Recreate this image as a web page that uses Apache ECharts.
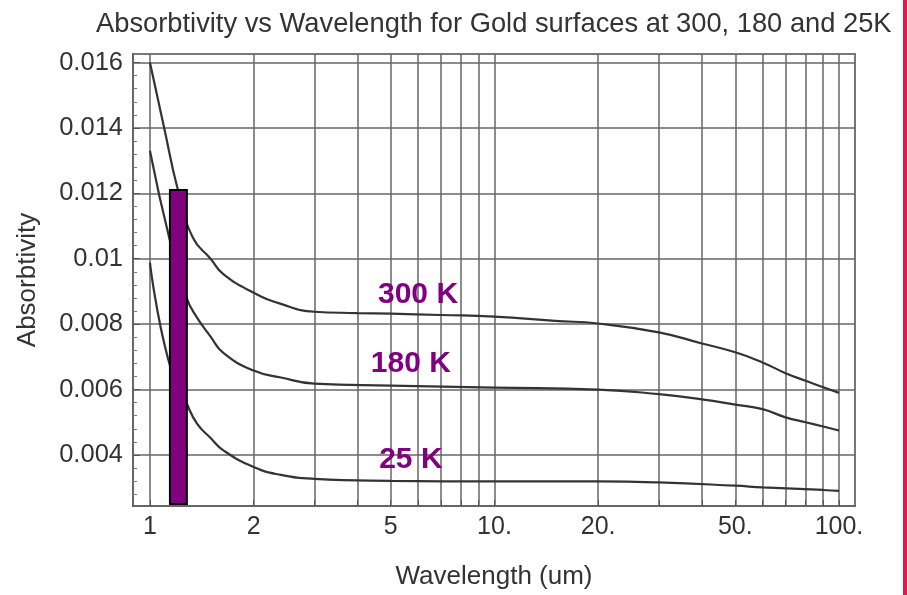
<!DOCTYPE html>
<html><head><meta charset="utf-8">
<script src="https://cdn.jsdelivr.net/npm/echarts@6/dist/echarts.min.js"></script>
<style>html,body{margin:0;padding:0;background:#fff}#c{width:907px;height:595px}</style>
</head><body><div id="c"></div>
<script>
const titleText = 'Absorbtivity vs Wavelength for Gold surfaces at 300, 180 and 25K';
const xName = 'Wavelength (um)';
const yName = 'Absorbtivity';
const seriesNames = ['300 K', '180 K', '25 K'];

const wl300  = [1, 1.1, 1.206, 1.333, 1.5, 1.63, 2, 2.4, 3, 4, 5, 7, 10, 15, 20, 30, 40, 50, 60, 70, 80, 90, 100];
const abs300 = [0.0160, 0.0140, 0.0121, 0.01064, 0.0100, 0.00954, 0.00896, 0.00862, 0.00838, 0.00834, 0.00832, 0.00828, 0.00823, 0.0081, 0.00802, 0.00775, 0.00741, 0.00714, 0.00683, 0.0065, 0.00627, 0.00607, 0.0059];

const wl180  = [1, 1.143, 1.28, 1.37, 1.5, 1.63, 2, 2.4, 3, 5, 10, 20, 30, 40, 50, 60, 70, 80, 90, 100];
const abs180 = [0.0133, 0.01055, 0.00878, 0.0082, 0.00762, 0.00713, 0.00658, 0.00637, 0.00618, 0.00612, 0.00606, 0.0060, 0.00586, 0.0057, 0.00554, 0.0054, 0.00515, 0.0050, 0.00487, 0.00475];

const wl25   = [1, 1.128, 1.28, 1.37, 1.5, 1.63, 2, 2.4, 3, 5, 10, 20, 30, 50, 60, 90, 100];
const abs25  = [0.00988, 0.00695, 0.00557, 0.00496, 0.00452, 0.00415, 0.00363, 0.00339, 0.00327, 0.00321, 0.00319, 0.00319, 0.00316, 0.00306, 0.00301, 0.00293, 0.0029];

const xGridValues  = [1, 2, 3, 4, 5, 6, 7, 8, 9, 10, 20, 30, 40, 50, 60, 70, 80, 90, 100];
const xTickValues  = [1, 2, 5, 10, 20, 50, 100];
const xTickLabels  = ['1', '2', '5', '10.', '20.', '50.', '100.'];
const yTickValues  = [0.004, 0.006, 0.008, 0.010, 0.012, 0.014, 0.016];
const yTickLabels  = ['0.004', '0.006', '0.008', '0.01', '0.012', '0.014', '0.016'];
const yMinorValues = [0.0028, 0.0032, 0.0036, 0.0044, 0.0048, 0.0052, 0.0056, 0.0064, 0.0068, 0.0072, 0.0076,
                      0.0084, 0.0088, 0.0092, 0.0096, 0.0104, 0.0108, 0.0112, 0.0116, 0.0124, 0.0128, 0.0132, 0.0136,
                      0.0144, 0.0148, 0.0152, 0.0156];

const bandWl  = [1.143, 1.28];
const bandAbs = [0.0025, 0.0121];

const FONT = 'Liberation Sans';
const pair = (xs, ys) => xs.map((x, i) => [x, ys[i]]);
const nearestLabel = (v, vals, labs) => {
  let best = 0;
  vals.forEach((t, i) => { if (Math.abs(t - v) / t < Math.abs(vals[best] - v) / vals[best]) best = i; });
  return labs[best];
};

const lineStyle = { color: '#333', width: 2.2 };
function labelPoint(name, coord) {
  return {
    symbol: 'circle', symbolSize: 1, silent: true,
    itemStyle: { color: 'transparent' },
    label: { show: true, position: 'inside', formatter: name, color: '#800080', fontWeight: 'bold', fontSize: 30, fontFamily: FONT },
    data: [{ coord: coord }]
  };
}

const chart = echarts.init(document.getElementById('c'), null, { renderer: 'canvas' });
chart.setOption({
  backgroundColor: '#fff',
  animation: false,
  title: { text: titleText, left: 91, top: 6, textStyle: { fontSize: 27.3, fontWeight: 'normal', color: '#333', fontFamily: FONT } },
  grid: { left: 133, right: 52, top: 54, bottom: 89, show: true, borderColor: '#777', borderWidth: 2,
          backgroundColor: 'transparent', outerBoundsMode: 'none', containLabel: false },
  xAxis: {
    type: 'log', logBase: 10, min: 0.893, max: 111.3,
    name: xName, nameLocation: 'middle', nameGap: 58,
    nameTextStyle: { fontSize: 26, color: '#333', fontFamily: FONT },
    axisLine: { show: true, lineStyle: { color: '#666', width: 2 } },
    axisTick: { show: true, inside: true, length: 6, customValues: xGridValues, lineStyle: { color: '#555' } },
    axisLabel: { customValues: xTickValues, margin: 9, fontSize: 25, color: '#333', fontFamily: FONT,
      formatter: v => nearestLabel(v, xTickValues, xTickLabels) },
    splitLine: { show: true, lineStyle: { color: '#666', width: 1.5 } },
    minorTick: { show: false }, minorSplitLine: { show: false }
  },
  yAxis: [{
    type: 'value', min: 0.00244, max: 0.01626,
    name: yName, nameLocation: 'middle', nameGap: 92,
    nameTextStyle: { fontSize: 26, color: '#333', fontFamily: FONT },
    axisLine: { show: true, lineStyle: { color: '#666', width: 2 } },
    axisTick: { show: true, inside: true, length: 7, customValues: yTickValues, lineStyle: { color: '#555' } },
    axisLabel: { customValues: yTickValues, margin: 10, fontSize: 25.5, color: '#333', fontFamily: FONT,
      formatter: v => nearestLabel(v, yTickValues, yTickLabels) },
    splitLine: { show: true, lineStyle: { color: '#666', width: 1.5 } }
  }, {
    type: 'value', min: 0.00244, max: 0.01626, position: 'left',
    axisLine: { show: false },
    axisTick: { show: true, inside: true, length: 4, customValues: yMinorValues, lineStyle: { color: '#777' } },
    axisLabel: { show: false },
    splitLine: { show: false }
  }],
  graphic: [{ type: 'rect', left: 903, top: 0, shape: { width: 4, height: 595 }, style: { fill: '#e0194b' }, z: 100 }],
  series: [
    { name: seriesNames[0], type: 'line', data: pair(wl300, abs300), showSymbol: false, smooth: 0.5, lineStyle, z: 3,
      markPoint: labelPoint(seriesNames[0], [6.0, 0.0089]) },
    { name: seriesNames[1], type: 'line', data: pair(wl180, abs180), showSymbol: false, smooth: 0.5, lineStyle, z: 3,
      markPoint: labelPoint(seriesNames[1], [5.72, 0.00679]) },
    { name: seriesNames[2], type: 'line', data: pair(wl25, abs25), showSymbol: false, smooth: 0.5, lineStyle, z: 3,
      markPoint: labelPoint(seriesNames[2], [5.72, 0.00385]) },
    { type: 'custom', z: 10, data: [[bandWl[0], bandWl[1], bandAbs[0], bandAbs[1]]],
      encode: { x: [0, 1], y: [2, 3] },
      renderItem: (params, api) => {
        const p0 = api.coord([api.value(0), api.value(3)]);
        const p1 = api.coord([api.value(1), api.value(2)]);
        return { type: 'rect', shape: { x: p0[0], y: p0[1], width: p1[0] - p0[0], height: p1[1] - p0[1] },
                 style: { fill: '#800080', stroke: '#000', lineWidth: 2 } };
      } }
  ]
});
</script></body></html>
